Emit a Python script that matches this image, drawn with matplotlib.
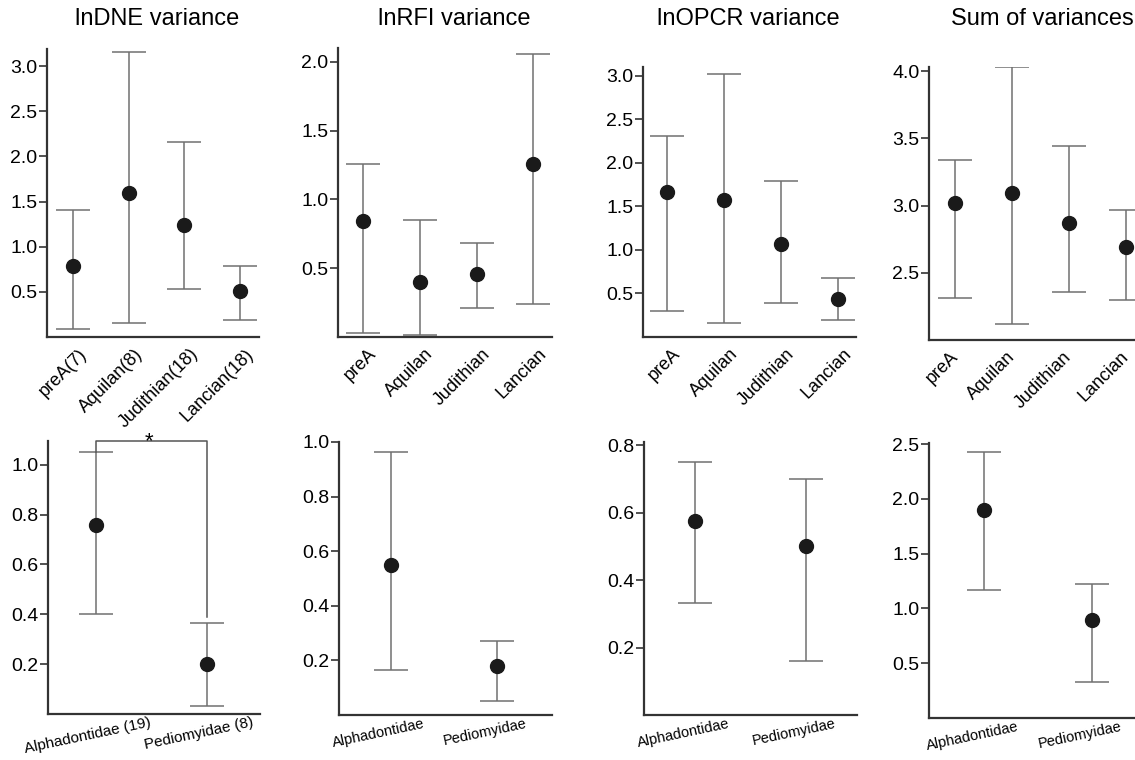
import matplotlib
matplotlib.use("Agg")
import matplotlib.pyplot as plt
from matplotlib.transforms import ScaledTranslation

plt.rcParams['font.family'] = ['Liberation Sans', 'DejaVu Sans']

# categories
periods = ["preA", "Aquilan", "Judithian", "Lancian"]
periods_n = ["preA(7)", "Aquilan(8)", "Judithian(18)", "Lancian(18)"]
families = ["Alphadontidae", "Pediomyidae"]
families_n = ["Alphadontidae (19)", "Pediomyidae (8)"]

# top row: estimate, lower bound, upper bound
dne_mid = [0.79, 1.60, 1.24, 0.51]
dne_lo = [0.09, 0.15, 0.53, 0.19]
dne_hi = [1.41, 3.16, 2.16, 0.79]

rfi_mid = [0.84, 0.40, 0.46, 1.26]
rfi_lo = [0.03, 0.015, 0.21, 0.24]
rfi_hi = [1.26, 0.85, 0.68, 2.06]

opcr_mid = [1.66, 1.57, 1.07, 0.44]
opcr_lo = [0.30, 0.16, 0.39, 0.20]
opcr_hi = [2.31, 3.02, 1.79, 0.68]

sum_mid = [3.02, 3.09, 2.87, 2.69]
sum_lo = [2.31, 2.12, 2.36, 2.30]
sum_hi = [3.34, 4.03, 3.44, 2.97]

# bottom row
fam_dne_mid = [0.76, 0.20]
fam_dne_lo = [0.40, 0.034]
fam_dne_hi = [1.05, 0.366]

fam_rfi_mid = [0.55, 0.18]
fam_rfi_lo = [0.166, 0.052]
fam_rfi_hi = [0.963, 0.272]

fam_opcr_mid = [0.576, 0.50]
fam_opcr_lo = [0.331, 0.159]
fam_opcr_hi = [0.752, 0.699]

fam_sum_mid = [1.90, 0.89]
fam_sum_lo = [1.17, 0.33]
fam_sum_hi = [2.43, 1.22]

titles = ["lnDNE variance", "lnRFI variance", "lnOPCR variance", "Sum of variances"]

W, H = 1135, 760
fig = plt.figure(figsize=(W / 100, H / 100), dpi=100)


def px_axes(left, right, top, bottom):
    return fig.add_axes([left / W, 1 - bottom / H, (right - left) / W, (bottom - top) / H])


def draw(ax, labels, mid, lo, hi, ylim, yticks, xlim, rot, lsize, dx=None):
    x = list(range(len(labels)))
    yerr = [[m - l for m, l in zip(mid, lo)], [h - m for m, h in zip(mid, hi)]]
    ax.errorbar(x, mid, yerr=yerr, fmt='o', color='#1a1a1a', ecolor='#707070',
                elinewidth=1.1, capsize=12, capthick=1.1, markersize=10)
    ax.set_ylim(*ylim)
    ax.set_xlim(*xlim)
    ax.set_yticks(yticks)
    ax.set_yticklabels([f"{t:.1f}" for t in yticks])
    ax.set_xticks(x)
    if rot == 45:
        ax.set_xticklabels(labels, rotation=45, ha='right', va='top',
                           rotation_mode='anchor', fontsize=lsize)
        if dx is None:
            dx = 5
        pad = 6
    else:
        ax.set_xticklabels(labels, rotation=rot, ha='center', fontsize=lsize)
        if dx is None:
            dx = -12
        pad = 1
    ax.tick_params(axis='x', length=0, pad=pad)
    ax.tick_params(axis='y', length=6, width=1.2, color='#333333', labelsize=14, pad=1)
    # nudge category labels sideways (after tick_params, which resets transforms)
    for lab in ax.get_xticklabels():
        lab.set_transform(lab.get_transform() + ScaledTranslation(dx / 100, 0, fig.dpi_scale_trans))
    for s in ['top', 'right']:
        ax.spines[s].set_visible(False)
    for s in ['left', 'bottom']:
        ax.spines[s].set_linewidth(1.6)
        ax.spines[s].set_color('#333333')


# top row
ax1 = px_axes(47, 259, 49, 337)
draw(ax1, periods_n, dne_mid, dne_lo, dne_hi, (0, 3.19), [0.5, 1.0, 1.5, 2.0, 2.5, 3.0],
     (-0.47, 3.34), 45, 13)
ax2 = px_axes(338, 552, 48, 337)
draw(ax2, periods, rfi_mid, rfi_lo, rfi_hi, (0, 2.1), [0.5, 1.0, 1.5, 2.0],
     (-0.44, 3.33), 45, 13)
ax3 = px_axes(643, 856, 67, 337)
draw(ax3, periods, opcr_mid, opcr_lo, opcr_hi, (0, 3.1), [0.5, 1.0, 1.5, 2.0, 2.5, 3.0],
     (-0.42, 3.31), 45, 13)
ax4 = px_axes(929, 1135, 67, 340)
draw(ax4, periods, sum_mid, sum_lo, sum_hi, (2.0, 4.03), [2.5, 3.0, 3.5, 4.0],
     (-0.46, 3.16), 45, 13, dx=-6)

# bottom row
ax5 = px_axes(48, 260, 441, 714)
draw(ax5, families_n, fam_dne_mid, fam_dne_lo, fam_dne_hi, (0, 1.095),
     [0.2, 0.4, 0.6, 0.8, 1.0], (-0.43, 1.48), 12, 11, dx=-8)
ax6 = px_axes(339, 552, 442, 715)
draw(ax6, families, fam_rfi_mid, fam_rfi_lo, fam_rfi_hi, (0, 1.0),
     [0.2, 0.4, 0.6, 0.8, 1.0], (-0.49, 1.52), 12, 10.5)
ax7 = px_axes(644, 857, 442, 715)
draw(ax7, families, fam_opcr_mid, fam_opcr_lo, fam_opcr_hi, (0, 0.81),
     [0.2, 0.4, 0.6, 0.8], (-0.46, 1.46), 12, 10.5)
ax8 = px_axes(929, 1135, 443, 718)
draw(ax8, families, fam_sum_mid, fam_sum_lo, fam_sum_hi, (0, 2.51),
     [0.5, 1.0, 1.5, 2.0, 2.5], (-0.51, 1.40), 12, 10.5)

# significance bracket
ax5.plot([0, 0, 1, 1], [1.05, 1.094, 1.094, 0.39], color='#555555', lw=1.1, clip_on=False)
ax5.text(0.48, 1.094, '*', ha='center', va='center', fontsize=16, clip_on=False)

# column titles
for xc, t in zip([157, 454, 748, 1042], titles):
    fig.text(xc / W, 1 - 19 / H, t, ha='center', va='center', fontsize=17)

fig.savefig("out.png", dpi=100)
